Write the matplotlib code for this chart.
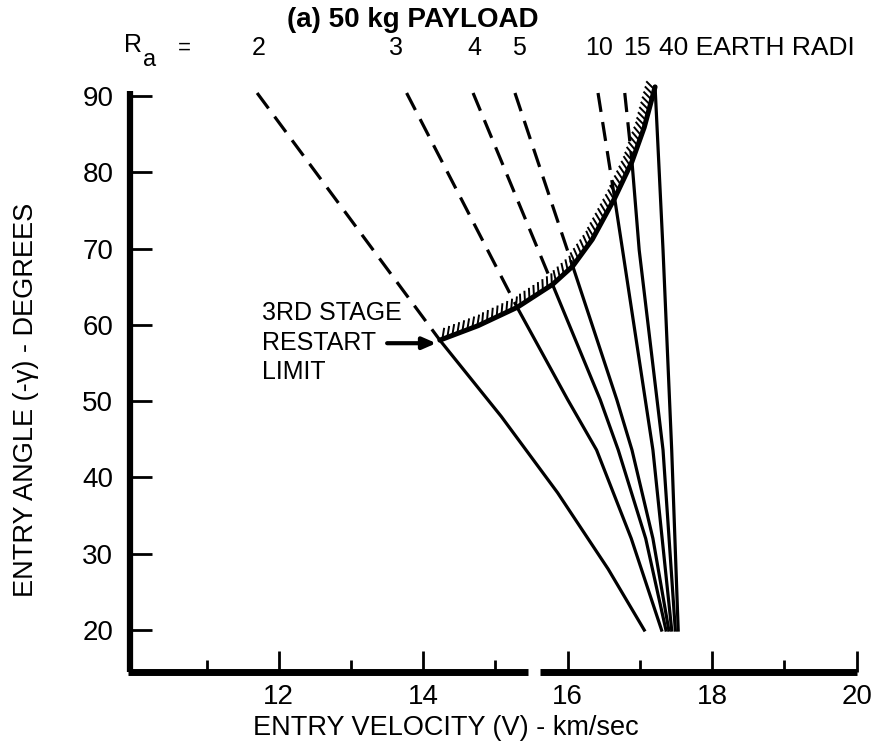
import matplotlib
matplotlib.use('Agg')
import matplotlib.pyplot as plt
import matplotlib.patheffects as pe

# ---------------- data ----------------
ra_labels = ['2', '3', '4', '5', '10', '15', '40']

# dashed parts (above the 3rd stage restart limit): entry velocity, entry angle
ra2_dash_v = [11.70, 14.23]; ra2_dash_a = [90.4, 58.0]
ra3_dash_v = [13.77, 15.30]; ra3_dash_a = [90.4, 62.3]
ra4_dash_v = [14.69, 15.79]; ra4_dash_a = [90.4, 65.3]
ra5_dash_v = [15.27, 16.07]; ra5_dash_a = [90.4, 67.7]
ra10_dash_v = [16.42, 16.65]; ra10_dash_a = [90.4, 76.6]
ra15_dash_v = [16.79, 16.89]; ra15_dash_a = [90.4, 81.4]

# solid parts (below the limit)
ra2_v = [14.23, 15.08, 15.86, 16.56, 17.06]; ra2_a = [58.0, 48.0, 38.0, 28.0, 20.0]
ra3_v = [15.30, 16.00, 16.40, 16.88, 17.30]; ra3_a = [62.3, 50.2, 43.6, 32.0, 20.0]
ra4_v = [15.79, 16.45, 16.70, 17.08, 17.36]; ra4_a = [65.3, 50.2, 43.6, 32.0, 20.0]
ra5_v = [16.07, 16.68, 16.89, 17.18, 17.40]; ra5_a = [67.7, 50.2, 43.6, 32.0, 20.0]
ra10_v = [16.65, 16.76, 17.18, 17.44]; ra10_a = [76.6, 69.8, 43.6, 20.0]
ra15_v = [16.89, 16.99, 17.32, 17.49]; ra15_a = [81.4, 69.8, 43.6, 20.0]
ra40_v = [17.21, 17.32, 17.44, 17.53]; ra40_a = [91.2, 69.8, 43.6, 20.0]

# 3rd stage restart limit curve
limit_v = [14.23, 14.76, 15.30, 15.79, 16.07, 16.34, 16.65, 16.89, 17.06, 17.21]
limit_a = [58.0, 59.9, 62.3, 65.3, 67.7, 71.2, 76.6, 81.4, 85.9, 91.2]

x_major = [12, 14, 16, 18, 20]
x_minor = [11, 13, 15, 17, 19]
y_major = [20, 30, 40, 50, 60, 70, 80, 90]

# ---------------- figure ----------------
W, H = 881, 748
fig = plt.figure(figsize=(W / 100, H / 100), dpi=100)
fig.patch.set_facecolor('white')

SANS = ['Liberation Sans', 'DejaVu Sans']
NARROW = ['Liberation Sans Narrow', 'Liberation Sans', 'DejaVu Sans']
plt.rcParams['font.family'] = SANS


def fx(px):
    return px / W


def fy(py):
    return 1 - py / H


ax = fig.add_axes([fx(130), fy(672), (856.6 - 130) / W, (672 - 84.6) / H])
ax.set_xlim(9.94, 20.0)
ax.set_ylim(14.5, 91.5)
ax.set_facecolor('white')

LW = 2.3
DASH = (6.0, 3.2)

dash_sets = [(ra2_dash_v, ra2_dash_a), (ra3_dash_v, ra3_dash_a), (ra4_dash_v, ra4_dash_a),
             (ra5_dash_v, ra5_dash_a), (ra10_dash_v, ra10_dash_a), (ra15_dash_v, ra15_dash_a)]
for v, a in dash_sets:
    ax.plot(v, a, color='black', lw=LW, linestyle=(0, DASH), solid_capstyle='butt', clip_on=False)

solid_sets = [(ra2_v, ra2_a), (ra3_v, ra3_a), (ra4_v, ra4_a), (ra5_v, ra5_a),
              (ra10_v, ra10_a), (ra15_v, ra15_a), (ra40_v, ra40_a)]
for v, a in solid_sets:
    ax.plot(v, a, color='black', lw=LW, solid_joinstyle='round', clip_on=False)

# restart limit with hatching on the upper side
ax.plot(limit_v, limit_a, color='black', lw=3.6, solid_capstyle='round',
        solid_joinstyle='round', clip_on=False)
ax.plot(limit_v, limit_a, color='black', lw=1.4, clip_on=False,
        path_effects=[pe.TickedStroke(spacing=3.8, angle=60, length=2.0)])

# axes styling
for s in ['top', 'right', 'bottom']:
    ax.spines[s].set_visible(False)
ax.spines['left'].set_linewidth(4.5)
ax.spines['left'].set_bounds(14.5, 90.6)
ax.spines['left'].set_capstyle('butt')

# bottom axis with a small break near 15.5
xt = ax.get_xaxis_transform()
ax.plot([9.94 - 0.03, 15.45], [0, 0], transform=xt, color='black', lw=5.0,
        solid_capstyle='butt', clip_on=False)
ax.plot([15.62, 20.0], [0, 0], transform=xt, color='black', lw=5.0,
        solid_capstyle='butt', clip_on=False)

ax.set_xticks(x_major)
ax.set_xticks(x_minor, minor=True)
ax.set_yticks(y_major)
ax.set_xticklabels([str(t) for t in x_major])
ax.set_yticklabels([str(t) for t in y_major])
ax.tick_params(axis='x', which='major', direction='in', length=15, width=2.0, pad=9,
               labelsize=20)
ax.tick_params(axis='x', which='minor', direction='in', length=9, width=2.0)
ax.tick_params(axis='y', which='major', direction='in', length=16, width=2.0, pad=12,
               labelsize=20)

# axis titles
fig.text(fx(446), fy(728), 'ENTRY VELOCITY (V) - km/sec', ha='center', va='center',
         fontsize=19.5, family=SANS)
fig.text(fx(26), fy(400), 'ENTRY ANGLE (-\u03b3) - DEGREES', ha='center', va='center',
         rotation=90, fontsize=19.5, family=SANS)

# title
fig.text(fx(413), fy(20), '(a) 50 kg PAYLOAD', ha='center', va='center',
         fontsize=20, fontweight='bold', family=NARROW)

# Ra label row
fig.text(fx(124), fy(45), 'R', ha='left', va='center', fontsize=18, family=SANS)
fig.text(fx(143), fy(60), 'a', ha='left', va='center', fontsize=17, family=SANS)
fig.text(fx(184), fy(48), '=', ha='center', va='center', fontsize=16, family=SANS)
ra_label_x = [259, 396, 474, 519, 599, 637]
for lab, px in zip(ra_labels[:-1], ra_label_x):
    fig.text(fx(px), fy(48), lab, ha='center', va='center', fontsize=18, family=SANS)
fig.text(fx(659), fy(48), ra_labels[-1] + ' EARTH RADI', ha='left', va='center',
         fontsize=19, family=SANS)

# annotation
fig.text(fx(262), fy(301), '3RD STAGE\nRESTART\nLIMIT', ha='left', va='top',
         fontsize=18, family=NARROW, linespacing=1.3)
ax.annotate('', xy=(14.18, 57.6), xytext=(13.50, 57.6),
            arrowprops=dict(arrowstyle='-|>,head_length=0.8,head_width=0.35',
                            color='black', lw=3.0, shrinkA=0, shrinkB=0))

fig.savefig('out.png', dpi=100, facecolor='white')
